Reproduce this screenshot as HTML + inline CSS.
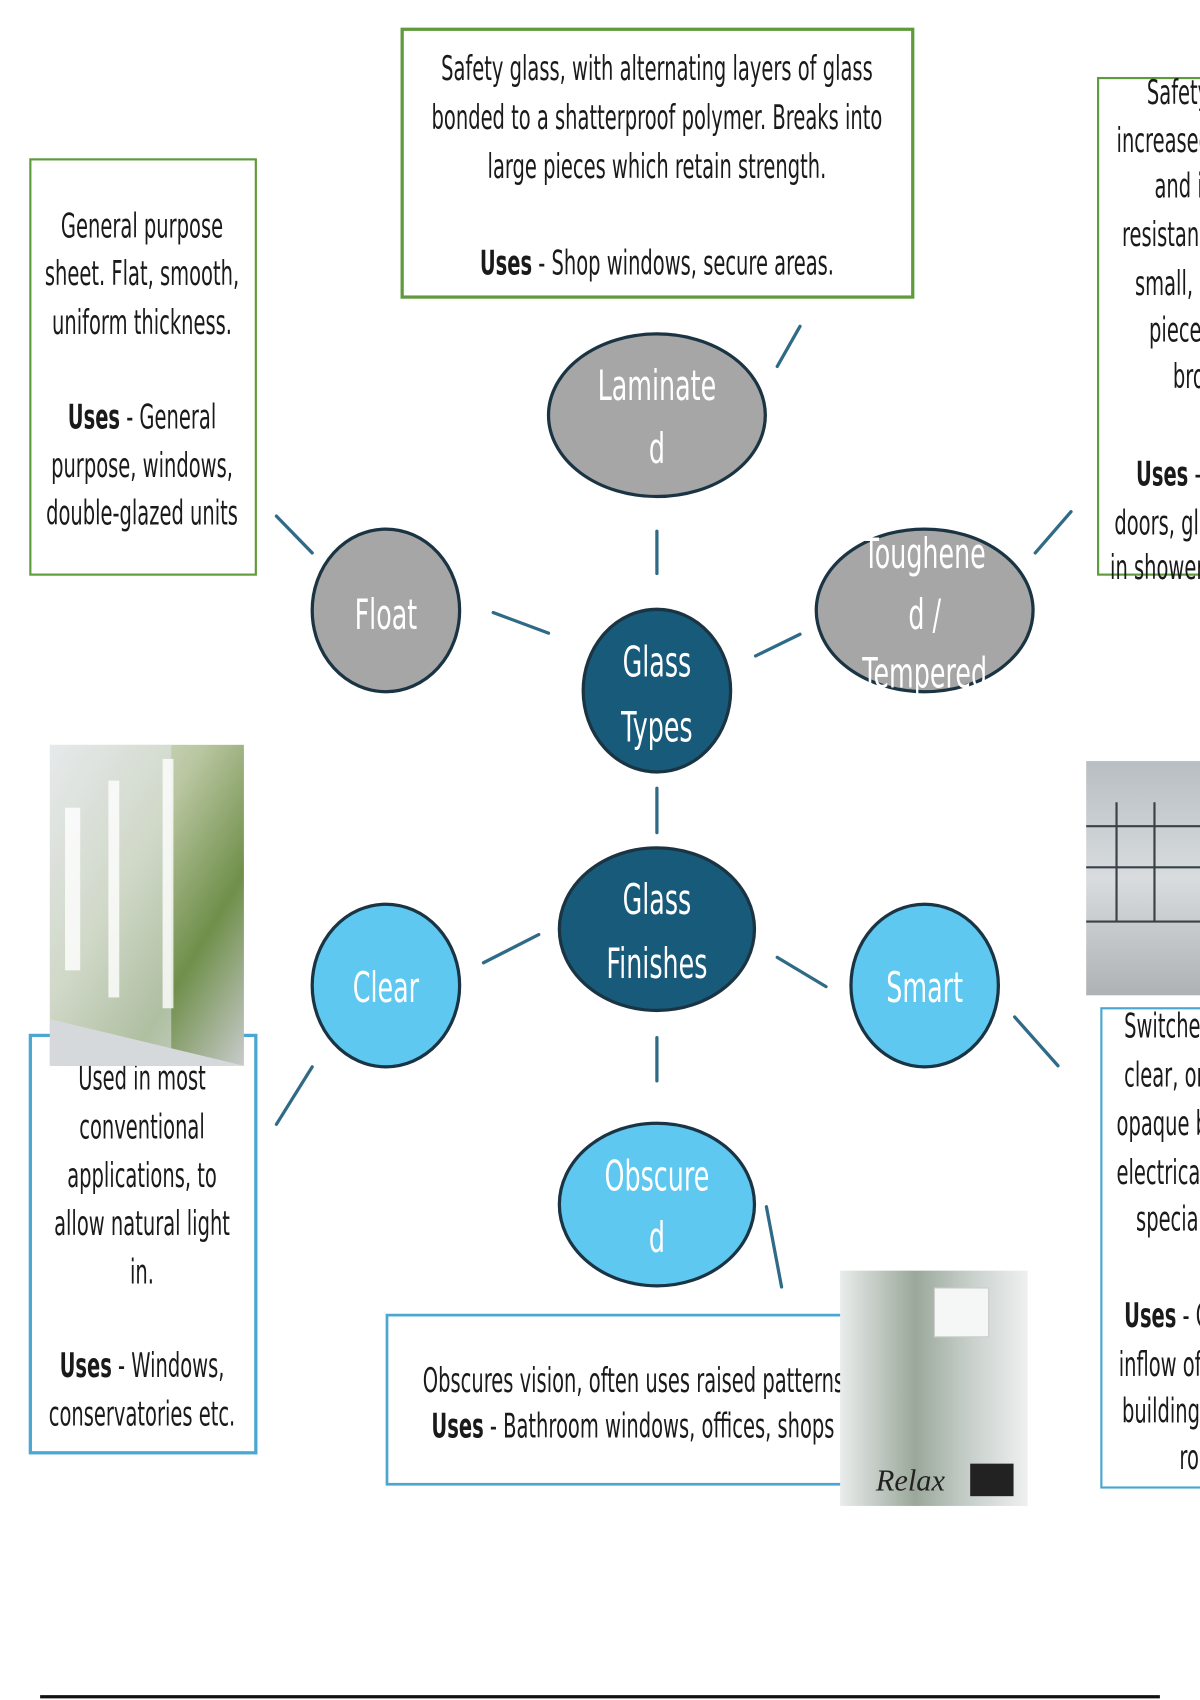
<!DOCTYPE html>
<html><head><meta charset="utf-8"><style>
html,body{margin:0;padding:0;background:#fff;width:1200px;height:1700px;overflow:hidden}
svg{display:block}
.t{font-family:"DejaVu Sans","Liberation Sans",sans-serif;font-size:31px;fill:#1a1a1a}
.b{font-weight:bold}
.e{font-family:"DejaVu Sans","Liberation Sans",sans-serif;font-size:39px;fill:#fff}
</style></head><body>
<svg width="1200" height="1700" viewBox="0 0 1107 1568" preserveAspectRatio="none" xmlns="http://www.w3.org/2000/svg">
<defs>
<linearGradient id="g1" x1="0" y1="0" x2="1" y2="1"><stop offset="0" stop-color="#e8ecee"/><stop offset=".4" stop-color="#b9c6a0"/><stop offset=".7" stop-color="#6f8f4a"/><stop offset="1" stop-color="#c8cbcb"/></linearGradient>
<linearGradient id="g2" x1="0" y1="0" x2="0" y2="1"><stop offset="0" stop-color="#b8bec2"/><stop offset=".5" stop-color="#d8dcdf"/><stop offset="1" stop-color="#aeb2b4"/></linearGradient>
<linearGradient id="g3" x1="0" y1="0" x2="1" y2="0"><stop offset="0" stop-color="#e9ecec"/><stop offset=".4" stop-color="#9aa89a"/><stop offset=".7" stop-color="#c9d0cc"/><stop offset="1" stop-color="#eef0f0"/></linearGradient>
</defs>

<!-- boxes -->
<rect x="371" y="27" width="471" height="247" fill="#fff" stroke="#5f9a3c" stroke-width="3"/>
<rect x="28" y="147" width="208" height="383" fill="#fff" stroke="#5f9a3c" stroke-width="2"/>
<rect x="1013" y="72" width="120" height="458" fill="#fff" stroke="#5f9a3c" stroke-width="2"/>
<rect x="28" y="955" width="208" height="385" fill="#fff" stroke="#4aa7cf" stroke-width="3"/>
<rect x="357" y="1213" width="433" height="156" fill="#fff" stroke="#4aa7cf" stroke-width="2.5"/>
<rect x="1016" y="930" width="120" height="442" fill="#fff" stroke="#4aa7cf" stroke-width="2"/>

<!-- top box text -->
<g class="t">
<text transform="translate(606,74) scale(.58,1)" text-anchor="middle">Safety glass, with alternating layers of glass</text>
<text transform="translate(606,119) scale(.58,1)" text-anchor="middle">bonded to a shatterproof polymer. Breaks into</text>
<text transform="translate(606,164) scale(.58,1)" text-anchor="middle">large pieces which retain strength.</text>
<text transform="translate(606,253) scale(.58,1)" text-anchor="middle"><tspan class="b">Uses</tspan> - Shop windows, secure areas.</text>

<text transform="translate(131,219) scale(.58,1)" text-anchor="middle">General purpose</text>
<text transform="translate(131,263) scale(.58,1)" text-anchor="middle">sheet. Flat, smooth,</text>
<text transform="translate(131,308) scale(.58,1)" text-anchor="middle">uniform thickness.</text>
<text transform="translate(131,395) scale(.58,1)" text-anchor="middle"><tspan class="b">Uses</tspan> - General</text>
<text transform="translate(131,440) scale(.58,1)" text-anchor="middle">purpose, windows,</text>
<text transform="translate(131,484) scale(.58,1)" text-anchor="middle">double-glazed units</text>

<text transform="translate(1058,96) scale(.58,1)">Safety glass with</text>
<text transform="translate(1030,140) scale(.58,1)">increased strength</text>
<text transform="translate(1065,182) scale(.58,1)">and impact</text>
<text transform="translate(1035,227) scale(.58,1)">resistance. Breaks</text>
<text transform="translate(1047,272) scale(.58,1)">small, blunt</text>
<text transform="translate(1060,315) scale(.58,1)">pieces when</text>
<text transform="translate(1082,358) scale(.58,1)">broken.</text>
<text transform="translate(1048,448) scale(.58,1)"><tspan class="b">Uses</tspan> - Car</text>
<text transform="translate(1028,493) scale(.58,1)">doors, glass</text>
<text transform="translate(1024,534) scale(.58,1)">in showers</text>

<text transform="translate(131,1005) scale(.58,1)" text-anchor="middle">Used in most</text>
<text transform="translate(131,1050) scale(.58,1)" text-anchor="middle">conventional</text>
<text transform="translate(131,1095) scale(.58,1)" text-anchor="middle">applications, to</text>
<text transform="translate(131,1139) scale(.58,1)" text-anchor="middle">allow natural light</text>
<text transform="translate(131,1184) scale(.58,1)" text-anchor="middle">in.</text>
<text transform="translate(131,1270) scale(.58,1)" text-anchor="middle"><tspan class="b">Uses</tspan> - Windows,</text>
<text transform="translate(131,1315) scale(.58,1)" text-anchor="middle">conservatories etc.</text>

<text transform="translate(390,1284) scale(.58,1)">Obscures vision, often uses raised patterns.</text>
<text transform="translate(398,1326) scale(.58,1)"><tspan class="b">Uses</tspan> - Bathroom windows, offices, shops</text>

<text transform="translate(1037,957) scale(.58,1)">Switches from</text>
<text transform="translate(1037,1002) scale(.58,1)">clear, or</text>
<text transform="translate(1030,1047) scale(.58,1)">opaque by</text>
<text transform="translate(1030,1092) scale(.58,1)">electrical</text>
<text transform="translate(1048,1135) scale(.58,1)">special</text>
<text transform="translate(1037,1224) scale(.58,1)"><tspan class="b">Uses</tspan> - Control</text>
<text transform="translate(1032,1269) scale(.58,1)">inflow of light</text>
<text transform="translate(1035,1312) scale(.58,1)">buildings,</text>
<text transform="translate(1088,1355) scale(.58,1)">rooms</text>
</g>

<!-- images -->
<rect x="46" y="687" width="179" height="296" fill="url(#g1)"/>
<rect x="46" y="687" width="112" height="296" fill="#e4e7e9" opacity=".55"/>
<rect x="60" y="745" width="14" height="150" fill="#fff" opacity=".8"/>
<rect x="100" y="720" width="10" height="200" fill="#fff" opacity=".8"/>
<rect x="150" y="700" width="10" height="230" fill="#fff" opacity=".8"/>
<polygon points="46,940 225,983 46,983" fill="#d6d9db"/>
<rect x="1002" y="702" width="105" height="216" fill="url(#g2)"/>
<g stroke="#3a4248" stroke-width="2" fill="none"><line x1="1002" y1="762" x2="1107" y2="762"/><line x1="1002" y1="800" x2="1107" y2="800"/><line x1="1030" y1="740" x2="1030" y2="850"/><line x1="1065" y1="740" x2="1065" y2="850"/><line x1="1002" y1="850" x2="1107" y2="850"/></g>
<rect x="775" y="1172" width="173" height="217" fill="url(#g3)"/>
<rect x="862" y="1188" width="50" height="45" fill="#f5f7f7" stroke="#ccc"/>
<rect x="895" y="1350" width="40" height="30" fill="#222"/>
<text x="808" y="1375" font-family="Liberation Serif,serif" font-style="italic" font-size="28" fill="#222">Relax</text>

<!-- connectors -->
<g stroke="#2f6a86" stroke-width="3" stroke-linecap="round">
<line x1="717" y1="338" x2="738" y2="301"/>
<line x1="255" y1="476" x2="288" y2="510"/>
<line x1="606" y1="490" x2="606" y2="529"/>
<line x1="455" y1="565" x2="506" y2="584"/>
<line x1="697" y1="605" x2="738" y2="585"/>
<line x1="955" y1="510" x2="988" y2="472"/>
<line x1="606" y1="727" x2="606" y2="768"/>
<line x1="446" y1="888" x2="497" y2="862"/>
<line x1="717" y1="883" x2="762" y2="910"/>
<line x1="255" y1="1037" x2="288" y2="984"/>
<line x1="936" y1="938" x2="976" y2="983"/>
<line x1="606" y1="957" x2="606" y2="997"/>
<line x1="707" y1="1113" x2="721" y2="1187"/>
</g>

<!-- ellipses -->
<g stroke="#1b3443" stroke-width="3">
<ellipse cx="606" cy="383" rx="100" ry="75" fill="#a6a6a6"/>
<ellipse cx="356" cy="563" rx="68" ry="75" fill="#a6a6a6"/>
<ellipse cx="853" cy="563" rx="100" ry="75" fill="#a6a6a6"/>
<ellipse cx="606" cy="637" rx="68" ry="75" fill="#175a7a"/>
<ellipse cx="606" cy="857" rx="90" ry="75" fill="#175a7a"/>
<ellipse cx="356" cy="909" rx="68" ry="75" fill="#5ec8f0"/>
<ellipse cx="853" cy="909" rx="68" ry="75" fill="#5ec8f0"/>
<ellipse cx="606" cy="1111" rx="90" ry="75" fill="#5ec8f0"/>
</g>
<g class="e" text-anchor="middle">
<text transform="translate(606,369) scale(.6,1)">Laminate</text>
<text transform="translate(606,427) scale(.6,1)">d</text>
<text transform="translate(356,580) scale(.6,1)">Float</text>
<text transform="translate(853,524) scale(.6,1)">Toughene</text>
<text transform="translate(853,580) scale(.6,1)">d /</text>
<text transform="translate(853,634) scale(.6,1)">Tempered</text>
<text transform="translate(606,624) scale(.6,1)">Glass</text>
<text transform="translate(606,684) scale(.6,1)">Types</text>
<text transform="translate(606,843) scale(.6,1)">Glass</text>
<text transform="translate(606,902) scale(.6,1)">Finishes</text>
<text transform="translate(356,924) scale(.6,1)">Clear</text>
<text transform="translate(853,924) scale(.6,1)">Smart</text>
<text transform="translate(606,1098) scale(.6,1)">Obscure</text>
<text transform="translate(606,1155) scale(.6,1)">d</text>
</g>

<line x1="37" y1="1565" x2="1070" y2="1565" stroke="#111" stroke-width="3"/>
</svg>
</body></html>
